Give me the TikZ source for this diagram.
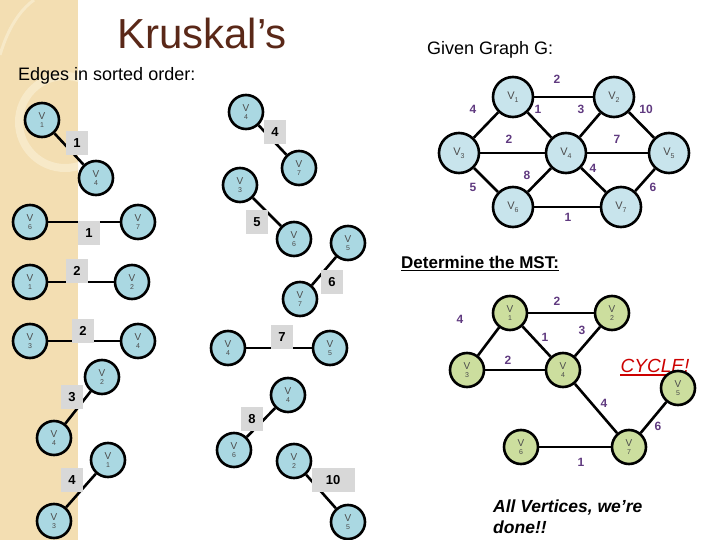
\documentclass[tikz,border=0pt]{standalone}
\usepackage{fontspec}
\setmainfont{Liberation Sans}
\definecolor{panel}{RGB}{243,222,178}
\definecolor{panellight}{RGB}{247,233,200}
\definecolor{nodeblue}{RGB}{170,216,226}
\definecolor{nodeblue2}{RGB}{200,228,236}
\definecolor{nodegreen}{RGB}{204,222,158}
\definecolor{boxgray}{RGB}{216,216,216}
\definecolor{wpurple}{RGB}{96,58,128}
\definecolor{titlebrown}{RGB}{90,40,24}
\definecolor{cyclered}{RGB}{204,0,0}
\newcommand\vtxt[1]{V\\[-2pt]{\fontsize{7}{7}\selectfont #1}}
\newcommand\vsub[1]{V\raisebox{-3pt}{\fontsize{7}{7}\selectfont #1}}
\tikzset{
  vb/.style={circle, draw=black, line width=2.6pt, fill=nodeblue, minimum size=34pt, inner sep=0pt, text=black!70, align=center, font=\fontsize{10}{10}\selectfont},
  vg/.style={vb, fill=nodeblue2, minimum size=40pt, font=\fontsize{11}{11}\selectfont},
  vm/.style={vb, fill=nodegreen},
  wbox/.style={fill=boxgray, minimum width=22pt, minimum height=24pt, inner sep=0pt, font=\bfseries\fontsize{13}{13}\selectfont},
  wlab/.style={text=wpurple, font=\bfseries\fontsize{12}{12}\selectfont, inner sep=0pt},
  edg/.style={line width=2.6pt},
}
\begin{document}
\begin{tikzpicture}[x=1pt,y=-1pt]
\useasboundingbox (0,0) rectangle (720,540);
% side panel
\fill[panel] (0,0) rectangle (78,540);
\begin{scope}
\clip (0,0) rectangle (78,540);
\draw[panellight, line width=8pt] (65,122) circle (46);
\draw[panellight, line width=3pt] (0,55) .. controls (8,28) and (20,10) .. (34,0);
\end{scope}
% titles
\node[text=titlebrown, font=\fontsize{42}{42}\selectfont] (title) at (202,33) {Kruskal’s};
\node[font=\fontsize{18}{18}\selectfont, anchor=west, inner sep=0pt] (edges) at (18,76) {Edges in sorted order:};
\node[font=\fontsize{18}{18}\selectfont, anchor=west, inner sep=0pt] (given) at (427,50) {Given Graph G:};
\node[font=\bfseries\fontsize{17}{17}\selectfont, anchor=west, inner sep=0pt] (det) at (401,262) {Determine the MST:};
\draw[line width=1pt] ([yshift=-2pt]det.south west) -- ([yshift=-2pt]det.south east);
\node[text=cyclered, font=\itshape\fontsize{19}{19}\selectfont, inner sep=0pt] (cyc) at (655,366) {CYCLE!};
\draw[cyclered, line width=1.2pt] ([yshift=-2pt]cyc.south west) -- ([yshift=-2pt]cyc.south east);
\node[font=\bfseries\itshape\fontsize{17.5}{21}\selectfont, align=left, anchor=west, inner sep=0pt] (done) at (493,517) {All Vertices, we’re\\done!!};

% ---- sorted edges ----
\node[vb] (a1) at (42,120) {\vtxt{1}};
\node[vb] (a4) at (96,178) {\vtxt{4}};
\draw[edg] (a1) -- (a4);
\node[wbox] (la) at (77,143) {1};

\node[vb] (b6) at (30,222) {\vtxt{6}};
\node[vb] (b7) at (138,222) {\vtxt{7}};
\draw[edg] (b6) -- (b7);
\node[wbox] (lb) at (89,233) {1};

\node[vb] (c1) at (30,282) {\vtxt{1}};
\node[vb] (c2) at (132,282) {\vtxt{2}};
\draw[edg] (c1) -- (c2);
\node[wbox] (lc) at (77,271) {2};

\node[vb] (d3) at (30,341) {\vtxt{3}};
\node[vb] (d4) at (138,341) {\vtxt{4}};
\draw[edg] (d3) -- (d4);
\node[wbox] (ld) at (83,331) {2};

\node[vb] (e2) at (102,377) {\vtxt{2}};
\node[vb] (e4) at (54,438) {\vtxt{4}};
\draw[edg] (e2) -- (e4);
\node[wbox] (le) at (72,397) {3};

\node[vb] (f1) at (108,460) {\vtxt{1}};
\node[vb] (f3) at (54,521) {\vtxt{3}};
\draw[edg] (f1) -- (f3);
\node[wbox] (lf) at (72,480) {4};

\node[vb] (g4) at (246,112) {\vtxt{4}};
\node[vb] (g7) at (299,168) {\vtxt{7}};
\draw[edg] (g4) -- (g7);
\node[wbox] (lg) at (275,132) {4};

\node[vb] (h3) at (240,185) {\vtxt{3}};
\node[vb] (h6) at (294,239) {\vtxt{6}};
\draw[edg] (h3) -- (h6);
\node[wbox] (lh) at (257,222) {5};

\node[vb] (i5) at (348,243) {\vtxt{5}};
\node[vb] (i7) at (300,299) {\vtxt{7}};
\draw[edg] (i5) -- (i7);
\node[wbox] (li) at (332,282) {6};

\node[vb] (j4) at (228,348) {\vtxt{4}};
\node[vb] (j5) at (330,348) {\vtxt{5}};
\draw[edg] (j4) -- (j5);
\node[wbox] (lj) at (282,337) {7};

\node[vb] (k4) at (288,395) {\vtxt{4}};
\node[vb] (k6) at (234,450) {\vtxt{6}};
\draw[edg] (k4) -- (k6);
\node[wbox] (lk) at (252,419) {8};

\node[vb] (m2) at (294,461) {\vtxt{2}};
\node[vb] (m5) at (348,522) {\vtxt{5}};
\draw[edg] (m2) -- (m5);
\node[wbox, minimum width=43pt] (lm) at (333,480) {10};

% ---- given graph ----
\node[vg] (G1) at (513,97) {\vsub{1}};
\node[vg] (G2) at (614,97) {\vsub{2}};
\node[vg] (G3) at (459,153) {\vsub{3}};
\node[vg] (G4) at (566,153) {\vsub{4}};
\node[vg] (G5) at (669,153) {\vsub{5}};
\node[vg] (G6) at (513,207) {\vsub{6}};
\node[vg] (G7) at (621,207) {\vsub{7}};
\draw[edg] (G1) -- (G2);
\draw[edg] (G1) -- (G3);
\draw[edg] (G1) -- (G4);
\draw[edg] (G2) -- (G4);
\draw[edg] (G2) -- (G5);
\draw[edg] (G3) -- (G4);
\draw[edg] (G4) -- (G5);
\draw[edg] (G3) -- (G6);
\draw[edg] (G4) -- (G6);
\draw[edg] (G4) -- (G7);
\draw[edg] (G5) -- (G7);
\draw[edg] (G6) -- (G7);
\node[wlab] (w12) at (557,79) {2};
\node[wlab] (w13) at (473,109) {4};
\node[wlab] (w14) at (538,109) {1};
\node[wlab] (w24) at (581,109) {3};
\node[wlab] (w25) at (646,109) {10};
\node[wlab] (w34) at (509,139) {2};
\node[wlab] (w45) at (617,139) {7};
\node[wlab] (w46) at (527,175) {8};
\node[wlab] (w47) at (593,168) {4};
\node[wlab] (w36) at (473,187) {5};
\node[wlab] (w57) at (653,187) {6};
\node[wlab] (w67) at (568,217) {1};

% ---- MST ----
\node[vm] (M1) at (510,313) {\vtxt{1}};
\node[vm] (M2) at (612,313) {\vtxt{2}};
\node[vm] (M3) at (467,370) {\vtxt{3}};
\node[vm] (M4) at (563,370) {\vtxt{4}};
\node[vm] (M5) at (678,388) {\vtxt{5}};
\node[vm] (M6) at (521,447) {\vtxt{6}};
\node[vm] (M7) at (629,447) {\vtxt{7}};
\draw[edg] (M1) -- (M2);
\draw[edg] (M1) -- (M3);
\draw[edg] (M1) -- (M4);
\draw[edg] (M2) -- (M4);
\draw[edg] (M3) -- (M4);
\draw[edg] (M4) -- (M7);
\draw[edg] (M5) -- (M7);
\draw[edg] (M6) -- (M7);
\node[wlab] (x12) at (557,301) {2};
\node[wlab] (x13) at (460,319) {4};
\node[wlab] (x14) at (545,337) {1};
\node[wlab] (x24) at (582,330) {3};
\node[wlab] (x34) at (508,360) {2};
\node[wlab] (x47) at (604,403) {4};
\node[wlab] (x57) at (658,426) {6};
\node[wlab] (x67) at (581,462) {1};
\end{tikzpicture}
\end{document}
